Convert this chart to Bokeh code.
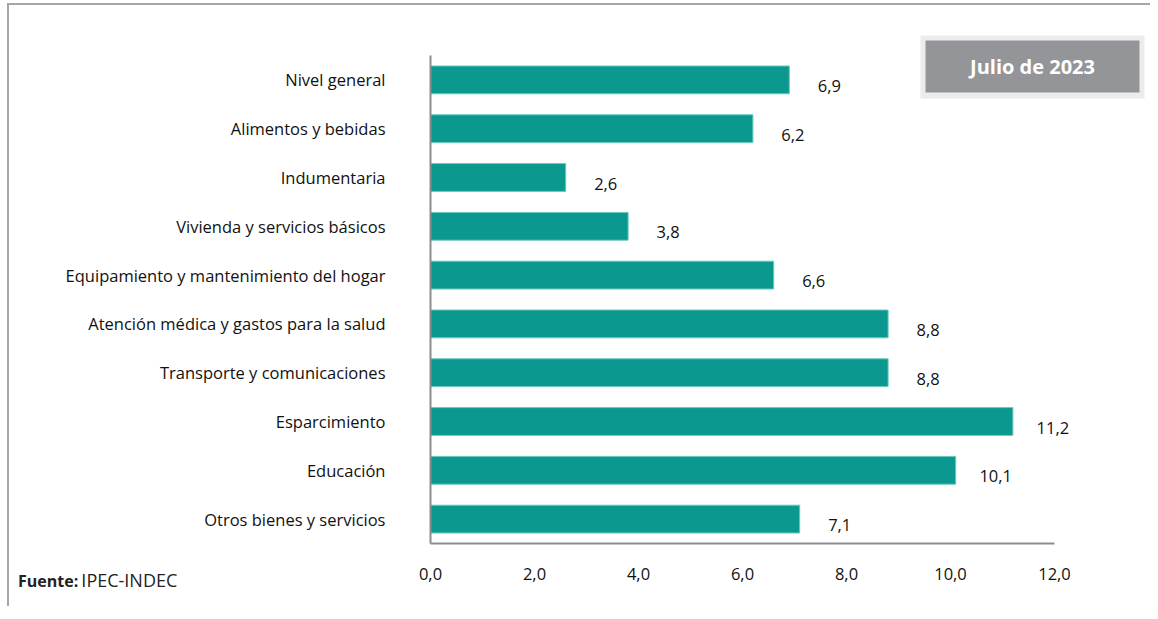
from bokeh.plotting import figure
from bokeh.layouts import column
from bokeh.models import (Range1d, FixedTicker, CustomJSTickFormatter,
                          ColumnDataSource, LabelSet, Label, BoxAnnotation, Div)
from bokeh.core.properties import value
from bokeh.embed import file_html
from bokeh.resources import INLINE

categories = [
    "Nivel general",
    "Alimentos y bebidas",
    "Indumentaria",
    "Vivienda y servicios básicos",
    "Equipamiento y mantenimiento del hogar",
    "Atención médica y gastos para la salud",
    "Transporte y comunicaciones",
    "Esparcimiento",
    "Educación",
    "Otros bienes y servicios",
]
values = [6.9, 6.2, 2.6, 3.8, 6.6, 8.8, 8.8, 11.2, 10.1, 7.1]
x_ticks = [0, 2, 4, 6, 8, 10, 12]
title_text = "Julio de 2023"
source_bold = "Fuente:"
source_text = "IPEC-INDEC"

FONT = "Open Sans"
FS = "16.5px"
positions = list(range(len(categories)))
labels = [f"{v:.1f}".replace(".", ",") for v in values]
src = ColumnDataSource(dict(pos=positions, val=values, lab=labels))

# wrapper offset (border line sits at the wrapper's top/left edge)
OX, OY = 9, 5
W, H = 1141, 598
frame_left, frame_top, frame_bottom = 430 - OX, 0, 543 - OY
band_top = 55 - OY
px_per_cat = (frame_bottom - band_top) / len(categories)
px_per_unit = 52.0

p = figure(width=W, height=H, output_backend="svg", toolbar_location=None,
           x_range=Range1d(0, (W - frame_left) / px_per_unit),
           y_range=Range1d(len(categories) - 0.5, -0.5 - (band_top - frame_top) / px_per_cat),
           min_border_left=frame_left, min_border_right=0, min_border_top=frame_top,
           min_border_bottom=H - frame_bottom)
p.outline_line_color = None
p.grid.visible = False
p.background_fill_color = "white"
p.border_fill_color = "white"

p.hbar(y="pos", right="val", left=0, height=0.57, source=src,
       fill_color="#0a988f", line_color="#6cc9c1", line_width=1)

# y axis (categories)
ya = p.yaxis[0]
ya.ticker = FixedTicker(ticks=positions)
ya.major_label_overrides = {i: c for i, c in zip(positions, categories)}
ya.bounds = (-0.5, len(categories) - 0.5)
ya.axis_line_color = "#8c8c8c"
ya.axis_line_width = 2
ya.major_tick_line_color = None
ya.minor_tick_line_color = None
ya.major_label_standoff = 39
ya.major_label_text_font = FONT
ya.major_label_text_font_size = FS
ya.major_label_text_color = "#111111"

# x axis
xa = p.xaxis[0]
xa.ticker = FixedTicker(ticks=x_ticks)
xa.bounds = (x_ticks[0], x_ticks[-1])
xa.formatter = CustomJSTickFormatter(code="return tick.toFixed(1).replace('.', ',');")
xa.axis_line_color = "#8c8c8c"
xa.axis_line_width = 2
xa.major_tick_line_color = None
xa.minor_tick_line_color = None
xa.major_label_standoff = 18
xa.major_label_text_font = FONT
xa.major_label_text_font_size = FS
xa.major_label_text_color = "#111111"

# value labels
p.add_layout(LabelSet(x="val", y="pos", text="lab", source=src, x_offset=40, y_offset=-6,
                      text_font=value(FONT), text_font_size=value(FS), text_color="#111111",
                      text_align="center", text_baseline="middle"))

def cbox(l, r, t, b, color):
    return BoxAnnotation(left=l, right=r, top=t, bottom=b,
                         left_units="canvas", right_units="canvas",
                         top_units="canvas", bottom_units="canvas",
                         fill_color=color, fill_alpha=1, line_color=None, level="underlay")

# title box
p.add_layout(cbox(920 - OX, 1144 - OX, 35 - OY, 98 - OY, "#ececec"))
p.add_layout(cbox(925 - OX, 1139 - OX, 40 - OY, 92 - OY, "#939598"))
p.add_layout(Label(x=1032 - OX, y=66 - OY, x_units="canvas", y_units="canvas", text=title_text,
                   text_font=FONT, text_font_size="20px", text_font_style="bold",
                   text_color="white", text_align="center", text_baseline="middle",
                   level="overlay"))

# source note (below-left, outside the plot frame)
src_div = Div(text=(f'<div style="font-family: \'Open Sans\', sans-serif; '
                    f'color: #222222; line-height: 22px; white-space: nowrap;">'
                    f'<b style="font-size: 16px;">{source_bold}</b> '
                    f'<span style="font-size: 18px;">{source_text}</span></div>'),
              margin=(-34, 0, 12, 9))

layout = column(p, src_div, margin=(3, 0, 0, 7),
                styles={"border-top": "2px solid #a6a6a6",
                        "border-left": "2px solid #a6a6a6"})

open("out.html", "w").write(file_html(layout, INLINE))
